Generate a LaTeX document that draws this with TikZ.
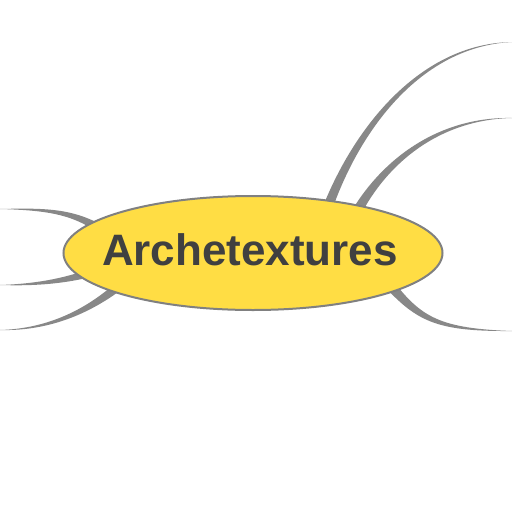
\documentclass[tikz,border=0pt]{standalone}
\usepackage{fontspec}
\setmainfont{Liberation Sans}
\usetikzlibrary{calc,shapes.geometric}
\definecolor{branchcol}{HTML}{888888}
\definecolor{topicfill}{HTML}{FFDD44}
\definecolor{topicline}{HTML}{808080}
\definecolor{topictext}{HTML}{404040}
\newcommand\taper[5]{%
  \fill[branchcol]
    ($(#1)!#5!90:(#2)$) .. controls ($(#2)!{0.65*#5}!90:(#3)$) and ($(#3)!{0.3*#5}!90:(#4)$) .. (#4)
    .. controls ($(#3)!{0.3*#5}!-90:(#4)$) and ($(#2)!{0.65*#5}!-90:(#3)$) .. ($(#1)!#5!-90:(#2)$) -- cycle;}
\begin{document}
\begin{tikzpicture}[x=1pt,y=-1pt,
  topic/.style={ellipse, draw=topicline, line width=2pt, fill=topicfill,
    minimum width=379pt, minimum height=114pt, inner sep=0pt}]
\useasboundingbox (0,0) rectangle (512,512);
% branch coordinates
\coordinate (a1) at (105,232); \coordinate (a2) at (75,212); \coordinate (a3) at (50,209); \coordinate (a4) at (0,209);
\coordinate (b1) at (100,270); \coordinate (b2) at (70,280); \coordinate (b3) at (40,285); \coordinate (b4) at (0,285);
\coordinate (c1) at (120,285); \coordinate (c2) at (90,310); \coordinate (c3) at (50,330); \coordinate (c4) at (0,330);
\coordinate (d1) at (325,215); \coordinate (d2) at (355,130); \coordinate (d3) at (420,45); \coordinate (d4) at (512,42);
\coordinate (e1) at (355,215); \coordinate (e2) at (385,160); \coordinate (e3) at (440,118); \coordinate (e4) at (512,118);
\coordinate (f1) at (390,285); \coordinate (f2) at (420,320); \coordinate (f3) at (440,330); \coordinate (f4) at (512,331);
\taper{a1}{a2}{a3}{a4}{4.5pt}
\taper{b1}{b2}{b3}{b4}{4.5pt}
\taper{c1}{c2}{c3}{c4}{4.5pt}
\taper{d1}{d2}{d3}{d4}{5pt}
\taper{e1}{e2}{e3}{e4}{5pt}
\taper{f1}{f2}{f3}{f4}{5pt}
\node[topic] (root) at (253,253) {};
\node[anchor=base, text=topictext, font=\fontsize{44}{48}\selectfont\bfseries, inner sep=0pt] (title) at (250,265) {Archetextures};
\end{tikzpicture}
\end{document}
